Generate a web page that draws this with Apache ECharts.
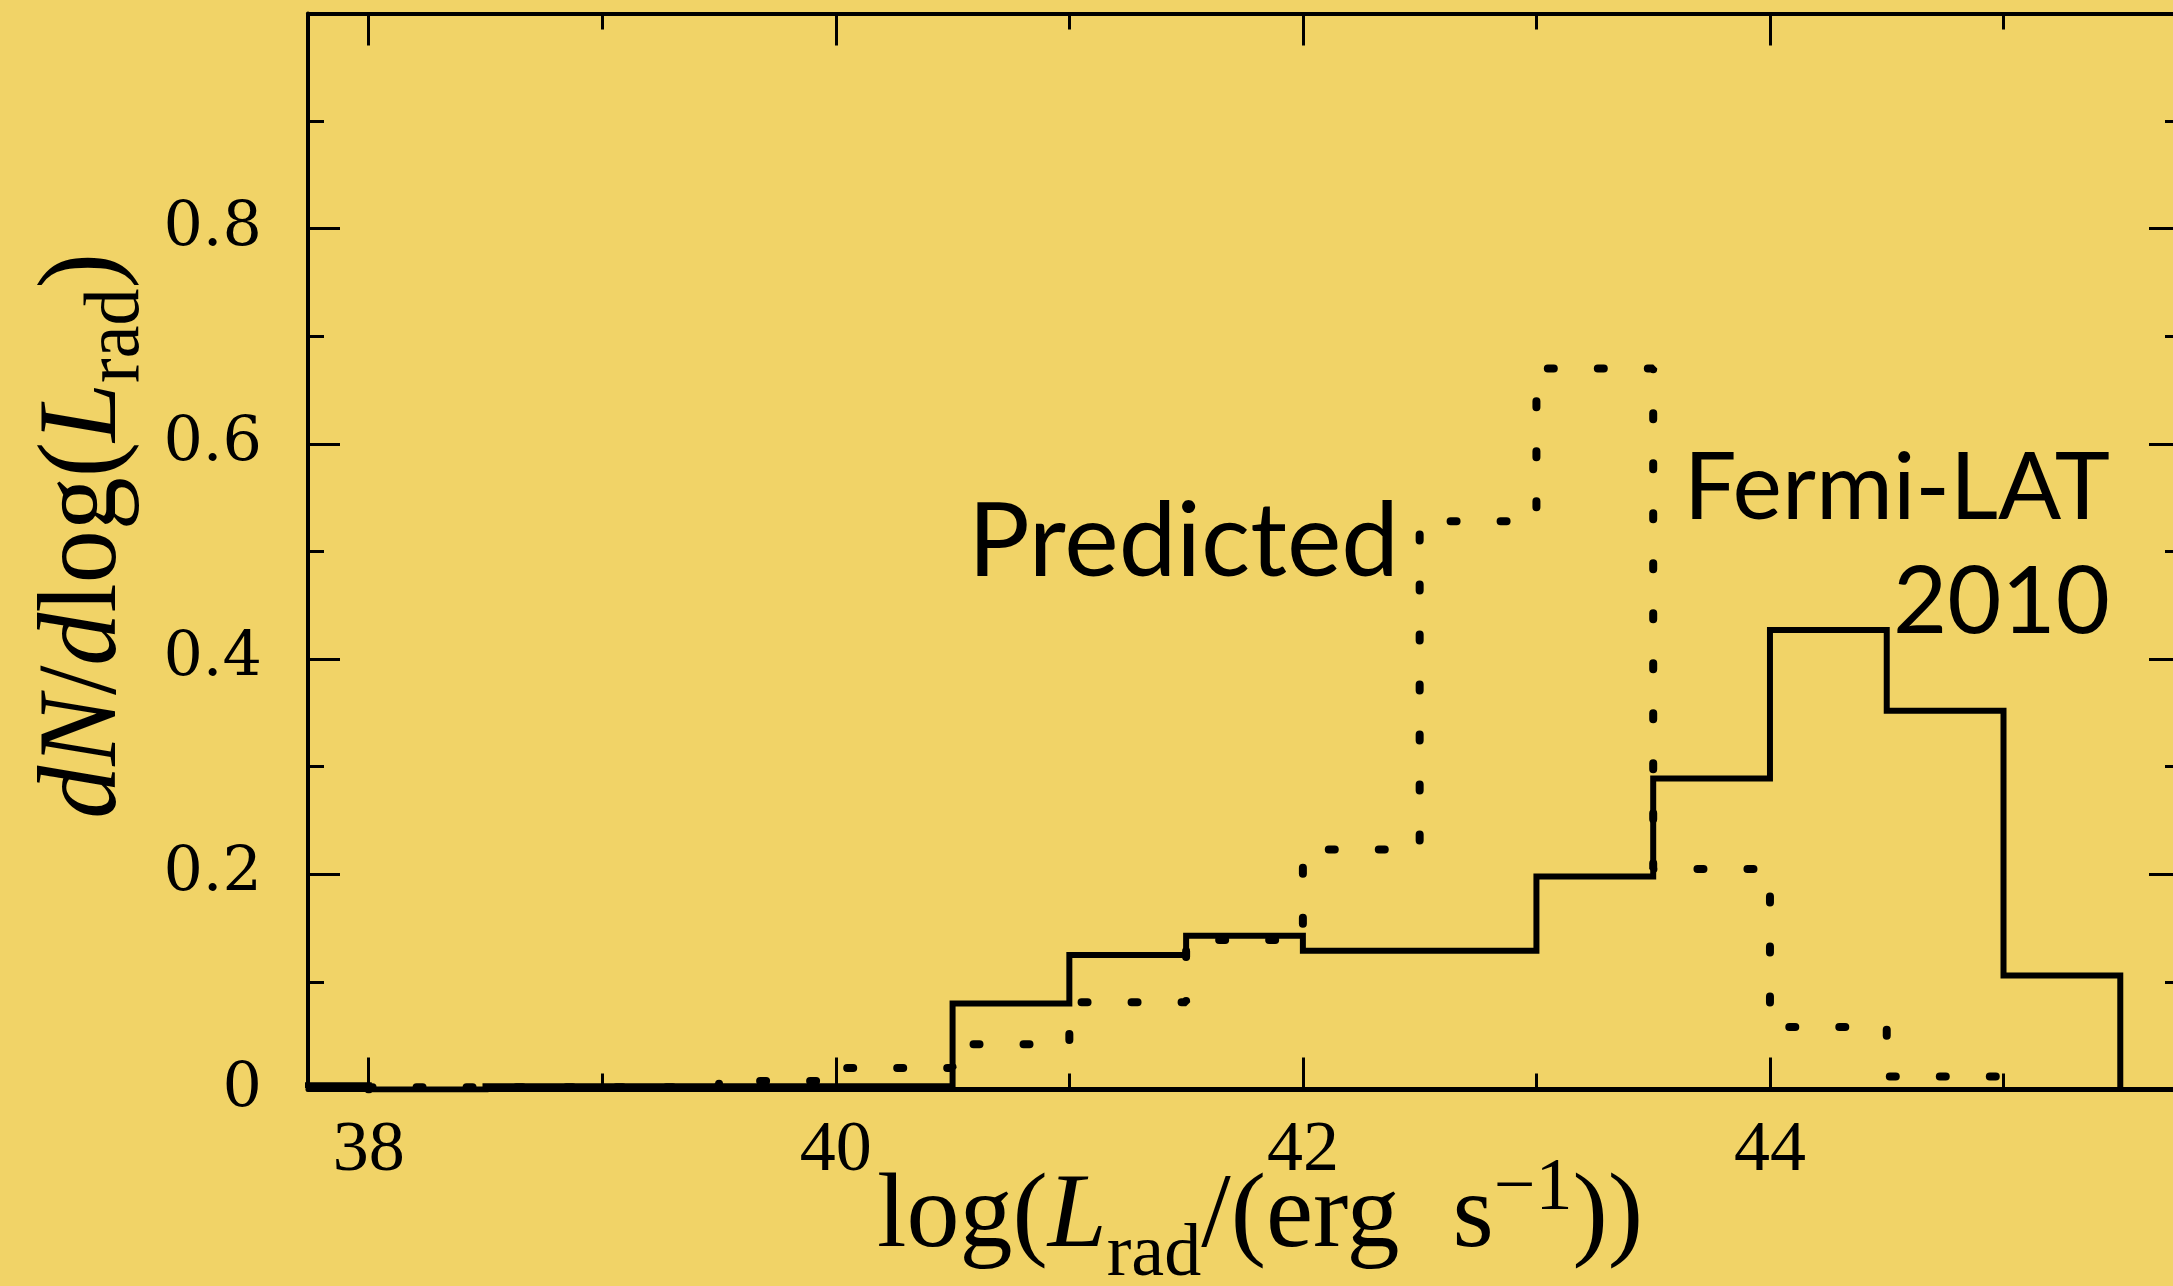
<!DOCTYPE html>
<html><head><meta charset="utf-8">
<script src="https://cdn.jsdelivr.net/npm/echarts@6/dist/echarts.min.js"></script>
<style>html,body{margin:0;padding:0;background:#F1D367;} #c{width:2173px;height:1286px;}</style>
</head><body><div id="c"></div>
<script>
// ---- data ----
const binWidth = 0.5;
const fermiStart = 37.5;
const fermiValues = [0.004, 0, 0.003, 0.003, 0.003, 0.003, 0.080, 0.125, 0.143, 0.129, 0.129, 0.198, 0.289, 0.427, 0.352, 0.106];
const predictedStart = 38;
const predictedValues = [0.002, 0.002, 0.002, 0.008, 0.020, 0.042, 0.081, 0.139, 0.223, 0.528, 0.670, 0.205, 0.058, 0.012];
const xMajorTicks = [38, 40, 42, 44];
const xMinorTicks = [39, 41, 43, 45];
const yTickLabels = ['0', '0.2', '0.4', '0.6', '0.8', ''];
const seriesNames = ['Predicted', 'Fermi-LAT 2010'];

function stepPoints(start, w, vals) {
  const pts = [[start, 0]];
  vals.forEach((v, i) => {
    pts.push([start + i * w, v]);
    pts.push([start + (i + 1) * w, v]);
  });
  pts.push([start + vals.length * w, 0]);
  return pts;
}

const chart = echarts.init(document.getElementById('c'), null, {renderer: 'canvas'});
const X_MIN = 37.74, X_MAX = 45.76;
const axisLine = {show: true, lineStyle: {color: '#000', width: 4}};
const serif = 'Liberation Serif';

const xBase = {type: 'value', min: X_MIN, max: X_MAX, splitLine: {show: false}, gridIndex: 0};

const option = {
  backgroundColor: '#F1D367',
  animation: false,
  grid: {left: 308, top: 13.5, width: 1873, height: 1076, containLabel: false, outerBoundsMode: 'none'},
  xAxis: [
    Object.assign({}, xBase, {
      position: 'bottom',
      axisLine: {show: true, lineStyle: {color: '#000', width: 5}},
      axisTick: {show: true, inside: true, length: 32, customValues: xMajorTicks, lineStyle: {color: '#000', width: 3}},
      axisLabel: {show: true, customValues: xMajorTicks, color: '#000', fontFamily: serif, fontSize: 72, margin: 26}
    }),
    Object.assign({}, xBase, {
      position: 'bottom',
      axisLine: {show: false},
      axisTick: {show: true, inside: true, length: 16, customValues: xMinorTicks, lineStyle: {color: '#000', width: 3}},
      axisLabel: {show: false}
    }),
    Object.assign({}, xBase, {
      position: 'top',
      axisLine: axisLine,
      axisTick: {show: true, inside: true, length: 32, customValues: xMajorTicks, lineStyle: {color: '#000', width: 3}},
      axisLabel: {show: false}
    }),
    Object.assign({}, xBase, {
      position: 'top',
      axisLine: {show: false},
      axisTick: {show: true, inside: true, length: 16, customValues: xMinorTicks, lineStyle: {color: '#000', width: 3}},
      axisLabel: {show: false}
    })
  ],
  yAxis: [
    {
      type: 'value', min: 0, max: 1, interval: 0.2, position: 'left',
      splitLine: {show: false},
      axisLine: axisLine,
      axisTick: {show: true, inside: true, length: 32, lineStyle: {color: '#000', width: 3}},
      minorTick: {show: true, splitNumber: 2, length: 16, lineStyle: {color: '#000', width: 3}},
      axisLabel: {
        show: true, color: '#000', fontFamily: 'DejaVu Serif', fontSize: 62, margin: 46,
        formatter: v => yTickLabels[Math.round(v / 0.2)]
      }
    },
    {
      type: 'value', min: 0, max: 1, interval: 0.2, position: 'right',
      splitLine: {show: false},
      axisLine: axisLine,
      axisTick: {show: true, inside: true, length: 32, lineStyle: {color: '#000', width: 3}},
      minorTick: {show: true, splitNumber: 2, length: 16, lineStyle: {color: '#000', width: 3}},
      axisLabel: {show: false}
    }
  ],
  series: [
    {
      type: 'line', name: seriesNames[0], xAxisIndex: 0, yAxisIndex: 0,
      data: stepPoints(predictedStart, binWidth, predictedValues),
      symbol: 'none', silent: true,
      lineStyle: {color: '#000', width: 8, type: [6, 44], cap: 'round'}
    },
    {
      type: 'line', name: seriesNames[1], xAxisIndex: 0, yAxisIndex: 0,
      data: stepPoints(fermiStart, binWidth, fermiValues),
      symbol: 'none', silent: true,
      lineStyle: {color: '#000', width: 6, join: 'miter'}
    }
  ],
  graphic: [
    {type: 'text', x: 968, y: 543, silent: true,
     style: {text: 'Predicted', fontFamily: 'Lato', fontSize: 103, fill: '#000', align: 'left', verticalAlign: 'middle'}},
    {type: 'text', x: 2110, y: 489, silent: true,
     style: {text: 'Fermi-LAT', fontFamily: 'Lato', fontSize: 93.5, fill: '#000', align: 'right', verticalAlign: 'middle'}},
    {type: 'text', x: 2110, y: 603, silent: true,
     style: {text: '2010', fontFamily: 'Lato', fontSize: 93.5, fill: '#000', align: 'right', verticalAlign: 'middle'}},
    {type: 'text', x: 1260, y: 1218, silent: true,
     style: {
       text: '{n|log(}{i|L}{s|rad}{n|/(erg  s}{p|−1}{n|))}',
       align: 'center', verticalAlign: 'middle',
       rich: {
         n: {fontFamily: serif, fontSize: 106, fill: '#000', lineHeight: 150},
         i: {fontFamily: serif, fontSize: 106, fontStyle: 'italic', fill: '#000', lineHeight: 150},
         s: {fontFamily: serif, fontSize: 74, fill: '#000', padding: [76, 0, 0, 0]},
         p: {fontFamily: serif, fontSize: 74, fill: '#000', padding: [0, 0, 56, 0]}
       }
     }},
    {type: 'text', x: 86, y: 536, rotation: Math.PI / 2, scaleY: 1.05, silent: true,
     style: {
       text: '{i|dN}{n|/}{i|d}{n|log(}{i|L}{s|rad}{n|)}',
       align: 'center', verticalAlign: 'middle',
       rich: {
         n: {fontFamily: serif, fontSize: 106, fill: '#000', lineHeight: 150},
         i: {fontFamily: serif, fontSize: 106, fontStyle: 'italic', fill: '#000', lineHeight: 150},
         s: {fontFamily: serif, fontSize: 74, fill: '#000', padding: [60, 0, 0, 0]}
       }
     }}
  ]
};
chart.setOption(option);
</script>
</body></html>
